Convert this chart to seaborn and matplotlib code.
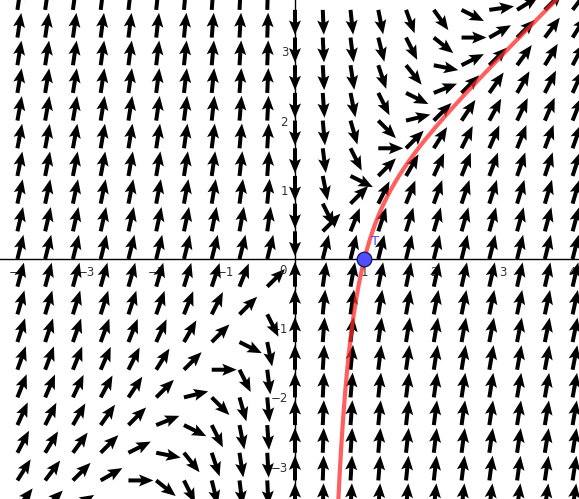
import numpy as np
import pandas as pd
import matplotlib
matplotlib.use("Agg")
import matplotlib.pyplot as plt
import seaborn as sns

# Direction field of  y' = a - b*y/x  and the solution through T
a_coef = 4.0
b_coef = 3.0
point_T = (1.0, 0.0)

# sample nodes of the field (arrow tails)
x_nodes = [-4.0, -3.6, -3.2, -2.8, -2.4, -2.0, -1.6, -1.2, -0.8, -0.4, 0.0,
           0.4, 0.8, 1.2, 1.6, 2.0, 2.4, 2.8, 3.2, 3.6, 4.0]
y_nodes = [-3.6, -3.2, -2.8, -2.4, -2.0, -1.6, -1.2, -0.8, -0.4, 0.0,
           0.4, 0.8, 1.2, 1.6, 2.0, 2.4, 2.8, 3.2, 3.6]

x_ticks = [-4, -3, -2, -1, 1, 2, 3, 4]
y_ticks = [-3, -2, -1, 1, 2, 3]

sns.set_style("white")
plt.rcParams["font.family"] = ["DejaVu Sans"]

fig = plt.figure(figsize=(5.79, 4.99), dpi=100)
ax = fig.add_axes([0, 0, 1, 1])

# field vectors: (1, f) oriented to the right, vertical where x = 0
X, Y = np.meshgrid(np.array(x_nodes), np.array(y_nodes))
sgn = np.where(X < 0, -1.0, 1.0)
U = sgn * X
V = sgn * (a_coef * X - b_coef * Y)
norm = np.hypot(U, V)
keep = norm > 0
arrow_len = 0.36
U = np.where(keep, U / np.where(keep, norm, 1) * arrow_len, 0)
V = np.where(keep, V / np.where(keep, norm, 1) * arrow_len, 0)

ax.quiver(X[keep], Y[keep], U[keep], V[keep], angles="xy", scale_units="xy",
          scale=1, pivot="tail", units="dots", width=4.0, headwidth=3.0,
          headlength=3.6, headaxislength=3.1, color="black", zorder=1)

# exact solution through T:  y = a/(b+1) x + C x^(-b)
x0, y0 = point_T
k = a_coef / (b_coef + 1)
C = (y0 - k * x0) * x0 ** b_coef
xs = np.linspace(0.55, 4.4, 600)
curve = pd.DataFrame({"x": xs, "y": k * xs + C * xs ** (-b_coef)})
sns.lineplot(data=curve, x="x", y="y", ax=ax, color="#ff2a2a", alpha=0.75,
             linewidth=3.0, estimator=None, sort=False, zorder=3)

sns.scatterplot(x=[x0], y=[y0], ax=ax, s=110, color="#4f4fff",
                edgecolor="#1a1a66", linewidth=1.0, zorder=5)
ax.annotate("T", xy=(x0, y0), xytext=(5, 8), textcoords="offset points",
            color="#4d4dff", fontsize=9.5, ha="left", va="bottom",
            zorder=10, annotation_clip=False)

ax.set_xlim(-295 / 69.4, (579 - 295) / 69.4)
ax.set_ylim(-(499 - 259) / 69.2, 259 / 69.2)

# axes through the origin
for side in ("top", "right"):
    ax.spines[side].set_visible(False)
ax.spines["left"].set_position(("data", 0))
ax.spines["bottom"].set_position(("data", 0))
for side in ("left", "bottom"):
    ax.spines[side].set_linewidth(1.0)
    ax.spines[side].set_color("black")
    ax.spines[side].set_zorder(2)

ax.set_xticks(x_ticks)
ax.set_yticks(y_ticks)
ax.set_xticklabels([f"\u2212{abs(v)}" if v < 0 else str(v) for v in x_ticks])
ax.set_yticklabels([f"\u2212{abs(v)}" if v < 0 else str(v) for v in y_ticks])
ax.tick_params(axis="both", direction="out", length=3, width=0.8,
               labelsize=8.5, labelcolor="#333333", color="black", pad=2)
ax.text(-0.12, -0.07, "0", fontsize=8.5, color="#333333", ha="right", va="top")
ax.set_xlabel("")
ax.set_ylabel("")
ax.grid(False)

fig.savefig("out.png", dpi=100)
